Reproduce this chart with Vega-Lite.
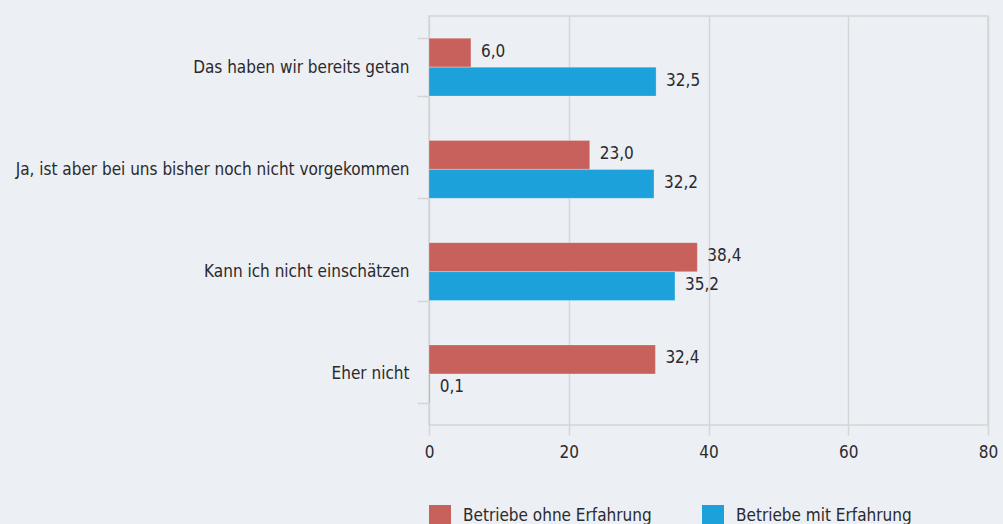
{
  "$schema": "https://vega.github.io/schema/vega-lite/v6.json",
  "width": 559,
  "height": 409,
  "autosize": {"type": "none"},
  "padding": {"left": 429, "top": 16, "right": 15, "bottom": 99},
  "background": "#ECEFF3",
  "config": {
    "locale": {"number": {"decimal": ",", "thousands": ".", "grouping": [3], "currency": ["", " €"]}},
    "font": "DejaVu Sans Condensed",
    "view": {"stroke": "#D3D5D9", "strokeWidth": 1.5},
    "axis": {"labelFont": "DejaVu Sans Condensed", "labelFontSize": 17, "labelColor": "#2a2a2e", "gridColor": "#D3D5D9", "tickColor": "#D3D5D9", "gridWidth": 1.5, "tickWidth": 1.5, "domain": false, "title": null},
    "legend": {"labelFont": "DejaVu Sans Condensed", "labelFontSize": 17, "labelColor": "#2a2a2e"}
  },
  "data": {
    "values": [
      {"kategorie": "Das haben wir bereits getan", "gruppe": "Betriebe ohne Erfahrung", "wert": 6.0},
      {"kategorie": "Das haben wir bereits getan", "gruppe": "Betriebe mit Erfahrung", "wert": 32.5},
      {"kategorie": "Ja, ist aber bei uns bisher noch nicht vorgekommen", "gruppe": "Betriebe ohne Erfahrung", "wert": 23.0},
      {"kategorie": "Ja, ist aber bei uns bisher noch nicht vorgekommen", "gruppe": "Betriebe mit Erfahrung", "wert": 32.2},
      {"kategorie": "Kann ich nicht einschätzen", "gruppe": "Betriebe ohne Erfahrung", "wert": 38.4},
      {"kategorie": "Kann ich nicht einschätzen", "gruppe": "Betriebe mit Erfahrung", "wert": 35.2},
      {"kategorie": "Eher nicht", "gruppe": "Betriebe ohne Erfahrung", "wert": 32.4},
      {"kategorie": "Eher nicht", "gruppe": "Betriebe mit Erfahrung", "wert": 0.1}
    ]
  },
  "encoding": {
    "y": {
      "field": "kategorie", "type": "nominal", "sort": null,
      "scale": {"paddingInner": 0.433, "paddingOuter": 0.2165},
      "axis": {"tickBand": "extent", "tickSize": 12, "labelPadding": 8, "grid": false, "labelLimit": 500}
    },
    "x": {
      "field": "wert", "type": "quantitative",
      "scale": {"domain": [0, 80], "nice": false},
      "axis": {"values": [0, 20, 40, 60, 80], "tickSize": 10, "labelPadding": 9, "grid": true, "format": "d", "labelFlush": false}
    },
    "yOffset": {"field": "gruppe", "type": "nominal", "sort": ["Betriebe ohne Erfahrung", "Betriebe mit Erfahrung"], "scale": {"paddingInner": 0, "paddingOuter": 0}}
  },
  "layer": [
    {
      "mark": {"type": "bar", "stroke": "#ffffff", "strokeOpacity": 0.25, "strokeWidth": 1},
      "encoding": {
        "color": {
          "field": "gruppe", "type": "nominal",
          "sort": ["Betriebe ohne Erfahrung", "Betriebe mit Erfahrung"],
          "scale": {"domain": ["Betriebe ohne Erfahrung", "Betriebe mit Erfahrung"], "range": ["#C8605C", "#1DA1DB"]},
          "legend": {"title": null, "orient": "none", "legendX": 0, "legendY": 489, "direction": "horizontal", "symbolType": "square", "symbolSize": 484, "symbolStrokeWidth": 0, "symbolOpacity": 1, "labelOffset": 12, "columnPadding": 50, "padding": 0, "labelLimit": 400}
        }
      }
    },
    {
      "mark": {"type": "text", "align": "left", "baseline": "middle", "dx": 10, "dy": -1, "fontSize": 17, "color": "#2a2a2e", "font": "DejaVu Sans Condensed"},
      "encoding": {
        "text": {"field": "wert", "type": "quantitative", "format": ".1f"}
      }
    }
  ]
}
